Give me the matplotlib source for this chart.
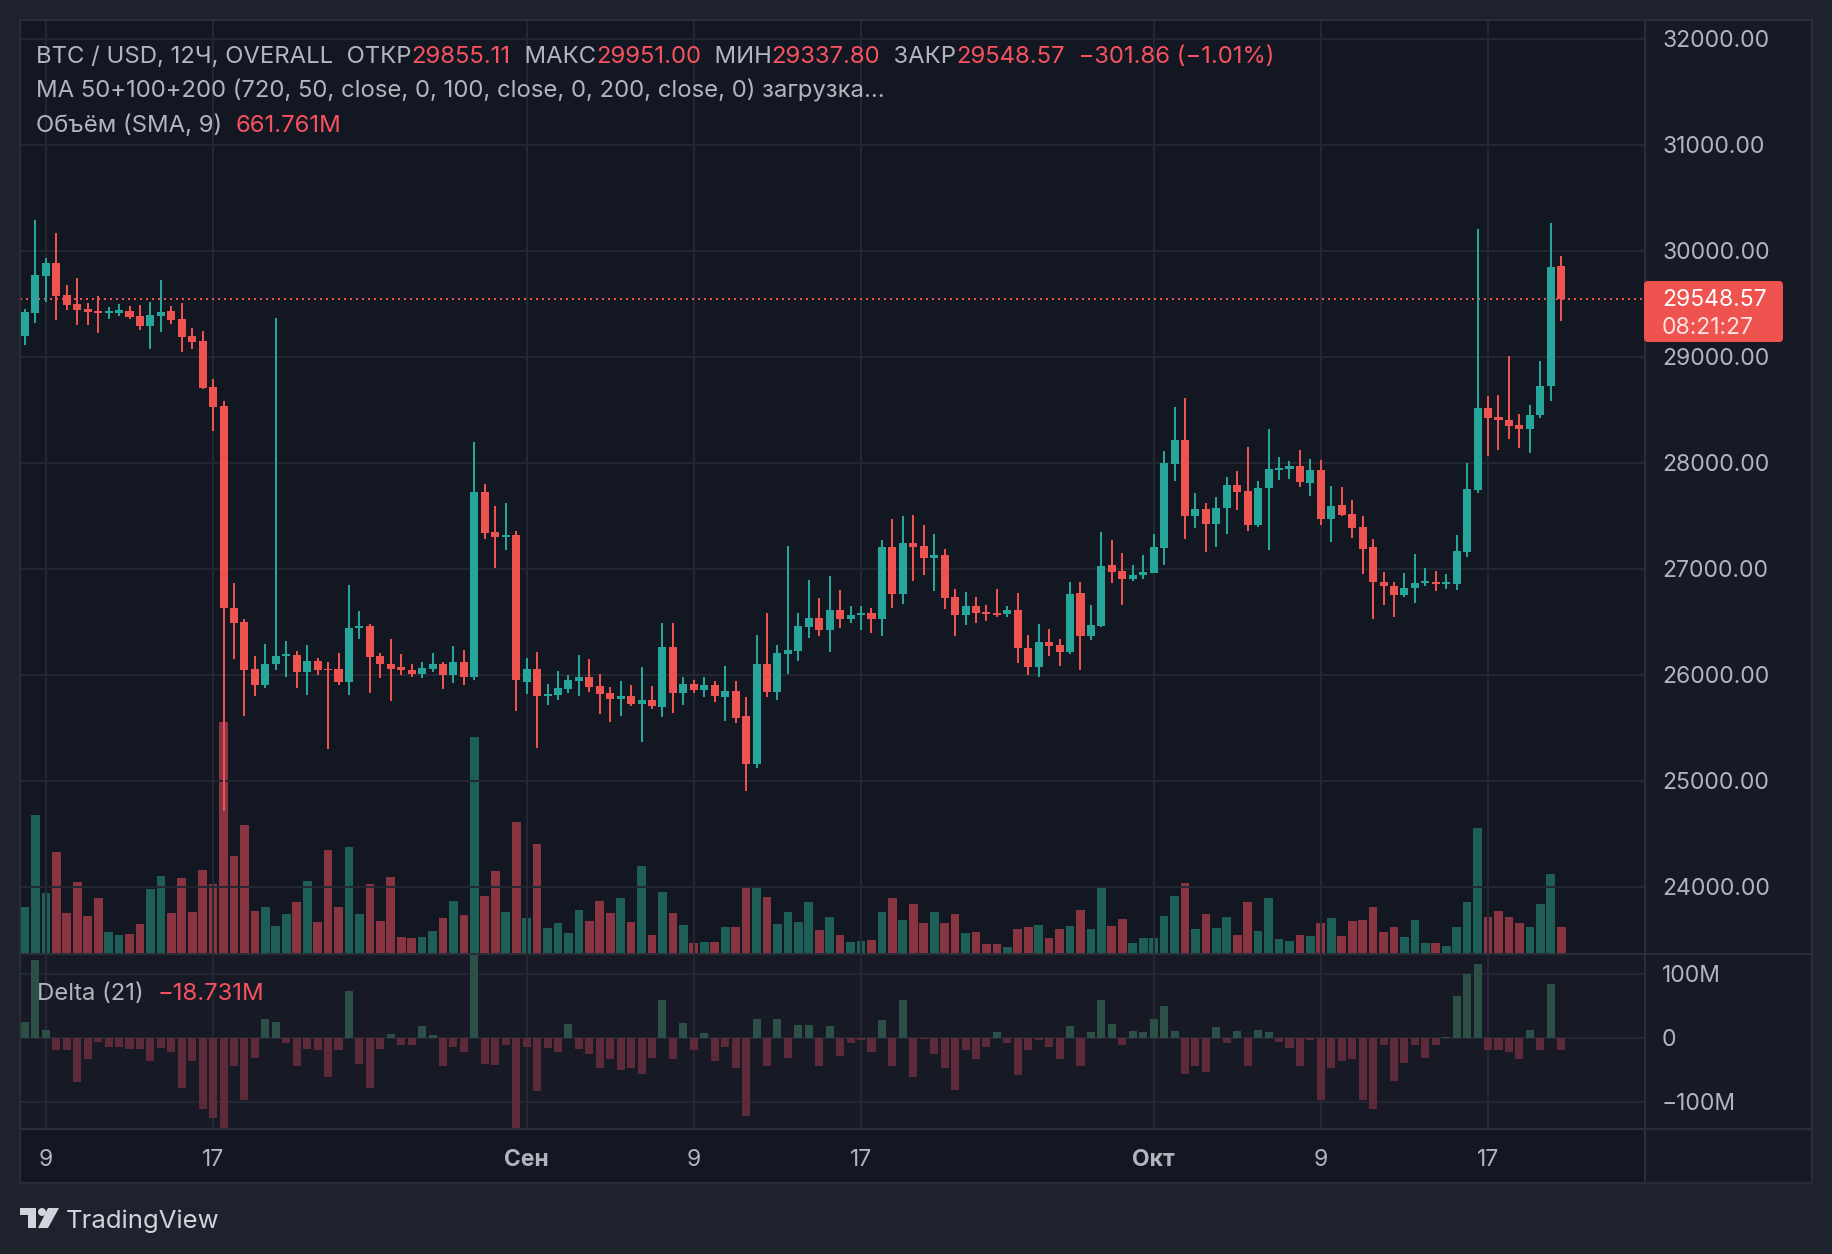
import matplotlib
matplotlib.use('Agg')
import matplotlib.pyplot as plt
import numpy as np
from matplotlib.patches import Rectangle, Polygon, Circle, FancyBboxPatch
from matplotlib.transforms import IdentityTransform

plt.rcParams['font.family'] = ['Inter', 'DejaVu Sans']

# --- data: BTC/USD 12h candles, 8 Aug .. 20 Oct ---
opens = [29199, 29415, 29765, 29884, 29581, 29498, 29451, 29433, 29412, 29412,
         29433, 29386, 29292, 29386, 29433, 29357, 29199, 29148, 28715, 28534,
         26632, 26498, 26054, 25899, 26098, 26177, 26188, 26029, 26130, 26054,
         26054, 25935, 26440, 26455, 26177, 26101, 26069, 26043, 26007, 26058,
         26101, 25993, 26119, 25975, 27726, 27347, 27303, 27321, 25932, 26051,
         25802, 25809, 25867, 25942, 25975, 25892, 25827, 25773, 25798, 25726,
         25762, 25697, 26260, 25831, 25910, 25856, 25899, 25791, 25845, 25610,
         25159, 26098, 25838, 26195, 26220, 26451, 26534, 26422, 26610, 26527,
         26563, 26581, 26527, 27202, 26762, 27242, 27213, 27101, 27126, 26733,
         26563, 26646, 26589, 26585, 26574, 26610, 26253, 26076, 26307, 26278,
         26217, 26769, 26368, 26462, 27032, 26975, 26903, 26939, 26957, 27195,
         27986, 28213, 27495, 27560, 27419, 27570, 27787, 27733, 27412, 27758,
         27931, 27942, 27968, 27805, 27928, 27466, 27599, 27513, 27390, 27202,
         26874, 26834, 26751, 26816, 26863, 26874, 26852, 26852, 27155, 27740,
         28513, 28430, 28401, 28354, 28318, 28448, 28722, 29855.11]
highs = [29448, 30289, 29931, 30166, 29679, 29744, 29509, 29574, 29469, 29498,
         29480, 29487, 29516, 29726, 29480, 29509, 29271, 29242, 28791, 28581,
         26867, 26527, 26177, 26289, 29365, 26318, 26224, 26282, 26159, 26119,
         26206, 26848, 26603, 26480, 26206, 26332, 26195, 26098, 26115, 26206,
         26119, 26271, 26235, 28195, 27801, 27592, 27621, 27357, 26155, 26213,
         25910, 26033, 25997, 26184, 26145, 26004, 25881, 25939, 25903, 26072,
         25892, 26487, 26487, 25975, 25950, 25975, 25939, 26080, 25939, 25787,
         26372, 26581, 26282, 27213, 26581, 26892, 26722, 26928, 26798, 26650,
         26650, 26628, 27267, 27466, 27495, 27506, 27412, 27325, 27184, 26805,
         26780, 26733, 26657, 26805, 26646, 26769, 26372, 26477, 26430, 26336,
         26874, 26874, 26657, 27343, 27267, 27144, 27033, 27126, 27325, 28108,
         28523, 28610, 27711, 27617, 27675, 27863, 27921, 28148, 27827, 28318,
         28051, 28015, 28119, 28033, 28025, 27780, 27769, 27646, 27495, 27278,
         26968, 26874, 26957, 27137, 27004, 26975, 26950, 27318, 27997, 30202,
         28628, 28635, 29004, 28459, 28542, 28957, 30260, 29951.00]
lows = [29116, 29321, 29513, 29350, 29444, 29303, 29303, 29220, 29361, 29386,
        29361, 29256, 29076, 29238, 29314, 29047, 29069, 28697, 28300, 24715,
        26145, 25607, 25794, 25870, 26047, 25975, 25874, 25812, 26000, 25303,
        25899, 25805, 26339, 25830, 25964, 25755, 25993, 25975, 25964, 26029,
        25860, 25917, 25906, 25953, 27285, 27011, 27181, 25657, 25820, 25311,
        25715, 25762, 25827, 25802, 25834, 25632, 25556, 25614, 25708, 25368,
        25679, 25603, 25639, 25715, 25831, 25791, 25744, 25563, 25545, 24906,
        25123, 25791, 25762, 26004, 26126, 26347, 26365, 26213, 26441, 26487,
        26422, 26394, 26365, 26628, 26668, 26885, 26942, 26791, 26617, 26365,
        26469, 26487, 26505, 26541, 26541, 26108, 26000, 25978, 26177, 26083,
        26195, 26047, 26329, 26451, 26867, 26657, 26881, 26903, 26957, 27033,
        27827, 27278, 27383, 27155, 27202, 27325, 27552, 27354, 27390, 27177,
        27838, 27845, 27769, 27686, 27412, 27249, 27495, 27289, 26950, 26524,
        26657, 26542, 26733, 26675, 26838, 26787, 26805, 26798, 27108, 27711,
        28061, 28119, 28220, 28137, 28090, 28419, 28581, 29337.80]
closes = [29422, 29773, 29884, 29578, 29491, 29444, 29422, 29412, 29430, 29437,
          29379, 29292, 29394, 29419, 29347, 29191, 29144, 28708, 28527, 26632,
          26491, 26047, 25899, 26101, 26177, 26195, 26029, 26130, 26047, 26040,
          25935, 26440, 26455, 26170, 26098, 26058, 26040, 26007, 26061, 26101,
          25993, 26119, 25975, 27726, 27339, 27303, 27321, 25946, 26051, 25802,
          25812, 25874, 25950, 25975, 25881, 25820, 25773, 25798, 25726, 25762,
          25704, 26260, 25831, 25910, 25856, 25899, 25802, 25845, 25592, 25159,
          26098, 25838, 26202, 26231, 26459, 26534, 26422, 26610, 26524, 26563,
          26581, 26527, 27202, 26762, 27242, 27202, 27101, 27126, 26722, 26563,
          26646, 26585, 26574, 26567, 26610, 26253, 26076, 26307, 26271, 26217,
          26758, 26368, 26466, 27025, 26968, 26903, 26939, 26968, 27202, 27996,
          28213, 27495, 27560, 27419, 27570, 27787, 27722, 27412, 27758, 27939,
          27949, 27968, 27816, 27928, 27466, 27589, 27506, 27383, 27184, 26874,
          26838, 26751, 26816, 26863, 26874, 26852, 26863, 27166, 27751, 28513,
          28419, 28401, 28343, 28318, 28448, 28722, 29850.43, 29548.57]
# volume, millions
volumes = [611, 1793, 787, 1320, 533, 933, 495, 727, 288, 249,
           262, 391, 843, 1011, 533, 985, 546, 1088, 907, 2997,
           1269, 1668, 559, 611, 366, 520, 675, 946, 417, 1346,
           611, 1385, 520, 907, 430, 998, 224, 211, 224, 301,
           469, 688, 507, 2791, 753, 1075, 546, 1707, 469, 1423,
           340, 404, 275, 572, 430, 688, 533, 727, 417, 1140,
           249, 804, 533, 378, 146, 159, 159, 353, 353, 856,
           869, 740, 391, 546, 417, 675, 314, 482, 249, 159,
           172, 185, 546, 727, 443, 649, 404, 546, 404, 520,
           275, 288, 133, 133, 95, 327, 353, 378, 211, 327,
           366, 572, 327, 856, 366, 456, 146, 211, 211, 495,
           753, 920, 327, 520, 340, 482, 249, 675, 301, 727,
           198, 172, 249, 237, 404, 469, 237, 430, 443, 611,
           288, 353, 224, 443, 146, 146, 108, 353, 675, 1630,
           482, 559, 482, 404, 353, 649, 1036, 353]
# Delta (21), millions
delta = [24, 121, 12, -20, -19, -70, -33, -6, -14, -14,
         -17, -17, -37, -16, -22, -79, -37, -112, -125, -150,
         -45, -98, -31, 29, 24, -8, -44, -17, -19, -62,
         -20, 73, -41, -78, -17, 6, -11, -11, 18, 4,
         -44, -14, -22, 135, -41, -42, -12, -145, -14, -84,
         -16, -23, 21, -17, -26, -48, -34, -51, -47, -56,
         -31, 59, -33, 23, -20, 7, -37, -14, -48, -123,
         29, -44, 29, -31, 20, 20, -44, 18, -28, -9,
         -3, -22, 28, -45, 59, -61, -2, -26, -48, -81,
         -20, -34, -14, 9, -9, -58, -19, -3, -14, -33,
         18, -44, 9, 59, 21, -12, 10, 9, 29, 49,
         10, -56, -44, -53, 17, -8, 10, -45, 12, 9,
         -6, -16, -45, -3, -97, -47, -37, -33, -97, -112,
         -11, -68, -39, -12, -31, -12, 1.5, 65, 99, 115,
         -20, -19, -22, -33, 12, -19, 84, -18.731]

tick_idx = [2, 18, 48, 64, 80, 108, 124, 140]
tick_labels = ['9', '17', 'Сен', '9', '17', 'Окт', '9', '17']
price_ticks = [24000, 25000, 26000, 27000, 28000, 29000, 30000, 31000, 32000]
delta_ticks = [100, 0, -100]
delta_tick_labels = ['100M', '0', '−100M']
vol_sma_text = '661.761M'
countdown = '08:21:27'

# --- colours ---
BG = '#1e222d'
PANE = '#131722'
PANE2 = '#171a25'
BORDER = '#2a2e39'
GRID = '#242833'
GRAY = '#b2b5be'
UP, DN = '#26a69a', '#ef5350'
VUP, VDN = '#1d5e57', '#883441'
DUP, DDN = '#2c5046', '#5c2a38'
LRED = '#f7525f'

W, H = 1832, 1254
FS = 16.5      # axis labels
LFS = 17.2     # legend lines

fig = plt.figure(figsize=(W / 100, H / 100), dpi=100, facecolor=BG)


def rect(x0, y0, x1, y1):
    return [x0 / W, 1 - y1 / H, (x1 - x0) / W, (y1 - y0) / H]


def box(x0, y0, x1, y1, **kw):
    p = Rectangle((x0, H - y1), x1 - x0, y1 - y0, transform=IdentityTransform(), **kw)
    fig.add_artist(p)
    return p


# frame panels
box(20, 20, 1812, 1183, facecolor=PANE, edgecolor='none', zorder=0)
box(1645, 20, 1812, 1183, facecolor=PANE2, edgecolor='none', zorder=0)

o = np.array(opens, float)
h = np.array(highs, float)
l = np.array(lows, float)
c = np.array(closes, float)
x = np.arange(len(o))
up = c >= o
xlim = (-0.48, 155.02)

# volume pane (behind candles)
axv = fig.add_axes(rect(20, 20, 1645, 954))
axv.set_facecolor(PANE)
axv.bar(x, volumes, width=0.83, color=np.where(up, VUP, VDN), linewidth=0)
axv.set_xlim(*xlim)
axv.set_ylim(0, 12040)
axv.set_xticks([])
axv.set_yticks([])
for s in axv.spines.values():
    s.set_visible(False)

# price pane
ax = fig.add_axes(rect(20, 20, 1645, 954))
ax.patch.set_visible(False)
ax.set_xlim(*xlim)
ax.set_ylim(23363.6, 32178.7)
ax.set_xticks(tick_idx)
ax.set_yticks(price_ticks)
ax.set_yticklabels([f'{p:.2f}' for p in price_ticks])
ax.yaxis.tick_right()
ax.tick_params(axis='y', length=0, pad=12.3, labelsize=FS, labelcolor=GRAY)
ax.tick_params(axis='x', length=0, labelbottom=False)
ax.grid(True, color=GRID, lw=1.4, zorder=0)
for s in ax.spines.values():
    s.set_visible(False)

col = np.where(up, UP, DN)
ax.vlines(x, l, h, colors=col, lw=1.44, zorder=3)
ax.bar(x, np.maximum(np.abs(c - o), 18), bottom=np.minimum(o, c), width=0.77,
       color=col, linewidth=0, zorder=4)
ax.axhline(c[-1], color=DN, lw=1.44, ls=(0, (1, 2)), zorder=2)

# delta pane
axd = fig.add_axes(rect(20, 955, 1645, 1129))
axd.set_facecolor(PANE2)
dv = np.array(delta, float)
axd.bar(x, dv, width=0.77, color=np.where(dv >= 0, DUP, DDN), linewidth=0, zorder=2)
axd.set_xlim(*xlim)
axd.set_ylim(-142.7, 129.2)
axd.set_yticks(delta_ticks)
axd.set_yticklabels(delta_tick_labels)
axd.yaxis.tick_right()
axd.set_xticks(tick_idx)
axd.set_xticklabels(tick_labels)
axd.tick_params(axis='y', length=0, pad=12.3, labelsize=FS, labelcolor=GRAY)
axd.tick_params(axis='x', length=0, pad=14.5, labelsize=FS, labelcolor=GRAY)
for t in axd.get_xticklabels():
    if t.get_text() in ('Сен', 'Окт'):
        t.set_fontweight('bold')
axd.grid(True, color=GRID, lw=1.4, zorder=0)
for s in axd.spines.values():
    s.set_visible(False)

# separators and border
box(20, 953, 1812, 955, facecolor=BORDER, edgecolor='none', zorder=5)
box(20, 1128, 1812, 1130, facecolor=BORDER, edgecolor='none', zorder=5)
box(1644, 20, 1646, 1183, facecolor=BORDER, edgecolor='none', zorder=5)
box(20, 20, 1812, 1183, facecolor='none', edgecolor=BORDER, lw=1.4, zorder=5)

# last price tag
tag = FancyBboxPatch((1644, H - 342), 139, 61, boxstyle='round,pad=0,rounding_size=4',
                     transform=IdentityTransform(), facecolor=DN, edgecolor='none', zorder=6)
fig.add_artist(tag)
fig.text(1662 / W, 1 - 306 / H, f'{c[-1]:.2f}', color='white', fontsize=FS, va='baseline', zorder=7)
fig.text(1662 / W, 1 - 334 / H, countdown, color='#fde2e1', fontsize=FS, va='baseline', zorder=7)

renderer = fig.canvas.get_renderer()


def chain(x0, y0, parts, size=LFS):
    xx = x0
    for s, colr in parts:
        t = fig.text(xx / W, 1 - y0 / H, s, color=colr, fontsize=size, va='baseline', zorder=8)
        xx = t.get_window_extent(renderer).x1


chg = c[-1] - c[-2]
pct = chg / c[-2] * 100
minus = lambda v, fmt: (fmt % v).replace('-', '−')
chain(36, 63, [('BTC / USD, 12Ч, OVERALL  ОТКР', GRAY), (f'{o[-1]:.2f}', LRED),
               ('  МАКС', GRAY), (f'{h[-1]:.2f}', LRED),
               ('  МИН', GRAY), (f'{l[-1]:.2f}', LRED),
               ('  ЗАКР', GRAY), (f'{c[-1]:.2f}', LRED),
               ('  ' + minus(chg, '%.2f') + ' (' + minus(pct, '%.2f') + '%)', LRED)])
chain(36, 98, [('MA 50+100+200 (720, 50, close, 0, 100, close, 0, 200, close, 0) загрузка...', GRAY)])
chain(36, 132, [('Объём (SMA, 9)  ', GRAY), (vol_sma_text, LRED)])
chain(37, 1000, [('Delta (21)  ', GRAY), (minus(dv[-1], '%.3f') + 'M', LRED)])

# TradingView logo
logo = '#d1d4dc'
def P(px, py):
    return (px, H - py)
fig.add_artist(Polygon([P(20, 1208), P(36, 1208), P(36, 1228), P(28, 1228), P(28, 1215), P(20, 1215)],
                       closed=True, transform=IdentityTransform(), facecolor=logo, edgecolor='none'))
fig.add_artist(Circle(P(42, 1212), 4, transform=IdentityTransform(), facecolor=logo, edgecolor='none'))
fig.add_artist(Polygon([P(48, 1208), P(59, 1208), P(48, 1228), P(38, 1228)],
                       closed=True, transform=IdentityTransform(), facecolor=logo, edgecolor='none'))
fig.text(66 / W, 1 - 1228 / H, 'TradingView', color=logo, fontsize=18.5, va='baseline')

fig.savefig('out.png', dpi=100, facecolor=BG)
